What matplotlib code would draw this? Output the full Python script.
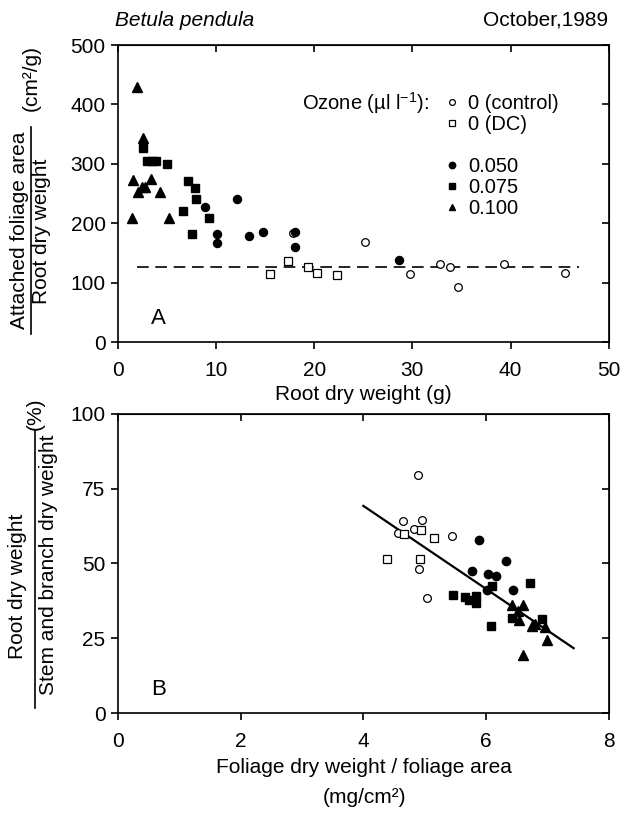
import numpy as np
import matplotlib
matplotlib.use("Agg")
from matplotlib import pyplot as plt
from matplotlib.lines import Line2D

plt.rcParams['font.family'] = ['Liberation Sans', 'DejaVu Sans']
plt.rcParams['mathtext.default'] = 'regular'

# ---- panel A: foliage area / root weight vs root dry weight
a_ctrl_x = [17.8, 25.2, 29.8, 32.8, 33.8, 34.7, 39.3, 45.6]
a_ctrl_y = [183, 169, 114, 132, 127, 92, 132, 117]
a_dc_x = [15.5, 17.3, 19.4, 20.3, 22.3]
a_dc_y = [114, 136, 127, 116, 113]
a_050_x = [8.85, 12.1, 10.1, 10.1, 13.4, 14.8, 18.0, 18.0, 28.6]
a_050_y = [228, 240, 182, 167, 178, 185, 185, 160, 138]
a_075_x = [2.52, 2.93, 3.44, 3.88, 4.97, 7.11, 7.86, 7.96, 6.66, 9.29, 7.55]
a_075_y = [326, 305, 305, 305, 300, 271, 260, 241, 220, 209, 182]
a_100_x = [1.91, 2.58, 1.56, 3.34, 2.42, 2.76, 2.07, 4.29, 1.40, 5.20]
a_100_y = [430, 344, 273, 274, 261, 261, 253, 253, 208, 208]
a_mean = 127
a_mean_range = [1.9, 47.0]

# ---- panel B: root / stem+branch weight vs foliage weight per area
b_ctrl_x = [4.89, 4.65, 4.95, 4.82, 4.57, 5.44, 4.91, 5.04]
b_ctrl_y = [79.5, 64.2, 64.5, 61.4, 60.1, 59.2, 48.0, 38.5]
b_dc_x = [4.38, 4.67, 4.94, 5.16, 4.93]
b_dc_y = [51.6, 59.7, 61.2, 58.5, 51.6]
b_050_x = [5.88, 6.33, 5.77, 6.03, 6.17, 6.44, 6.02]
b_050_y = [57.7, 50.8, 47.4, 46.4, 45.7, 41.3, 41.0]
b_075_x = [6.71, 6.10, 5.46, 5.65, 5.72, 5.83, 5.83, 6.08, 6.42, 6.91]
b_075_y = [43.5, 42.6, 39.3, 38.7, 37.9, 39.0, 36.9, 29.2, 31.8, 31.4]
b_100_x = [6.43, 6.60, 6.53, 6.54, 6.75, 6.80, 6.96, 6.99, 6.60]
b_100_y = [36.2, 36.2, 34.0, 31.2, 29.2, 29.9, 28.8, 24.5, 19.5]
b_fit = [-13.88, 124.8]   # slope, intercept
b_fit_range = [4.0, 7.43]

legend_labels = ['0 (control)', '0 (DC)', '', '0.050', '0.075', '0.100']

FS = 15
open_kw = dict(ls='none', mfc='white', mec='black', mew=0.9, color='black')
fill_kw = dict(ls='none', color='black')

fig = plt.figure(figsize=(6.25, 8.13), dpi=100)
axA = fig.add_axes([0.1888, 0.5793, 0.785, 0.3653])
axB = fig.add_axes([0.1888, 0.1230, 0.785, 0.3678])


def style(ax, xt, yt):
    ax.set_xticks(xt)
    ax.set_yticks(yt)
    ax.set_xlim(xt[0], xt[-1])
    ax.set_ylim(yt[0], yt[-1])
    ax.tick_params(direction='out', length=5, width=1.2, labelsize=FS)
    ax.tick_params(axis='x', pad=9)
    ax.tick_params(axis='y', pad=4)
    for s in ax.spines.values():
        s.set_linewidth(1.2)
    top = ax.secondary_xaxis('top')
    top.set_xticks(xt)
    top.tick_params(direction='in', length=5, width=1.2, labeltop=False)
    right = ax.secondary_yaxis('right')
    right.set_yticks(yt)
    right.tick_params(direction='in', length=5, width=1.2, labelright=False)


# panel A
axA.plot(a_mean_range, [a_mean, a_mean], color='black', lw=1.2, ls=(0, (7, 4)))
axA.plot(a_ctrl_x, a_ctrl_y, 'o', ms=5.5, **open_kw)
axA.plot(a_dc_x, a_dc_y, 's', ms=5.5, **open_kw)
axA.plot(a_050_x, a_050_y, 'o', ms=5.8, **fill_kw)
axA.plot(a_075_x, a_075_y, 's', ms=5.6, **fill_kw)
axA.plot(a_100_x, a_100_y, '^', ms=6.6, **fill_kw)
style(axA, np.arange(0, 51, 10), np.arange(0, 501, 100))
axA.text(0.082, 0.08, 'A', transform=axA.transAxes, fontsize=16, ha='center', va='center')

handles = [Line2D([], [], marker='o', ms=4.2, **open_kw),
           Line2D([], [], marker='s', ms=4.2, **open_kw),
           Line2D([], [], ls='none'),
           Line2D([], [], marker='o', ms=4.6, **fill_kw),
           Line2D([], [], marker='s', ms=4.4, **fill_kw),
           Line2D([], [], marker='^', ms=5, **fill_kw)]
axA.legend(handles, legend_labels, loc='upper left', bbox_to_anchor=(0.668, 0.835),
           frameon=False, fontsize=FS - 0.5, handlelength=0.6, handletextpad=0.5,
           labelspacing=0.1, borderpad=0, borderaxespad=0)
axA.text(0.633, 0.805, 'Ozone (µl l$^{-1}$):', transform=axA.transAxes,
         fontsize=FS - 0.5, ha='right', va='center')

# panel B
fx = np.array(b_fit_range)
axB.plot(fx, np.polyval(b_fit, fx), color='black', lw=1.6)
axB.plot(b_ctrl_x, b_ctrl_y, 'o', ms=5.6, **open_kw)
axB.plot(b_dc_x, b_dc_y, 's', ms=5.6, **open_kw)
axB.plot(b_050_x, b_050_y, 'o', ms=6, **fill_kw)
axB.plot(b_075_x, b_075_y, 's', ms=6, **fill_kw)
axB.plot(b_100_x, b_100_y, '^', ms=7, **fill_kw)
style(axB, np.arange(0, 9, 2), np.arange(0, 101, 25))
axB.text(0.082, 0.077, 'B', transform=axB.transAxes, fontsize=16, ha='center', va='center')

# titles and axis labels (figure coordinates from pixel positions)
W, H = 625.0, 813.0
fig.text(115 / W, 1 - 20 / H, 'Betula pendula', style='italic', fontsize=FS, ha='left', va='center')
fig.text(608 / W, 1 - 20 / H, 'October,1989', fontsize=FS, ha='right', va='center')
fig.text(363 / W, 1 - 394 / H, 'Root dry weight (g)', fontsize=FS, ha='center', va='center')
fig.text(364 / W, 1 - 767 / H, 'Foliage dry weight / foliage area', fontsize=FS, ha='center', va='center')
fig.text(364 / W, 1 - 797 / H, '(mg/cm²)', fontsize=FS, ha='center', va='center')

# fraction style y labels
fig.text(20 / W, 1 - 230 / H, 'Attached foliage area', rotation=90, fontsize=FS, ha='center', va='center')
fig.text(42 / W, 1 - 231 / H, 'Root dry weight', rotation=90, fontsize=FS, ha='center', va='center')
fig.add_artist(Line2D([31 / W, 31 / W], [1 - 334 / H, 1 - 127 / H], color='black', lw=1.2))
fig.text(31 / W, 1 - 78 / H, '(cm²/g)', rotation=90, fontsize=FS, ha='center', va='center')

fig.text(18 / W, 1 - 586 / H, 'Root dry weight', rotation=90, fontsize=FS, ha='center', va='center')
fig.text(49 / W, 1 - 565 / H, 'Stem and branch dry weight', rotation=90, fontsize=FS, ha='center', va='center')
fig.add_artist(Line2D([35 / W, 35 / W], [1 - 708 / H, 1 - 430 / H], color='black', lw=1.2))
fig.text(35 / W, 1 - 414 / H, '(%)', rotation=90, fontsize=FS, ha='center', va='center')

plt.savefig('out.png', dpi=100)
